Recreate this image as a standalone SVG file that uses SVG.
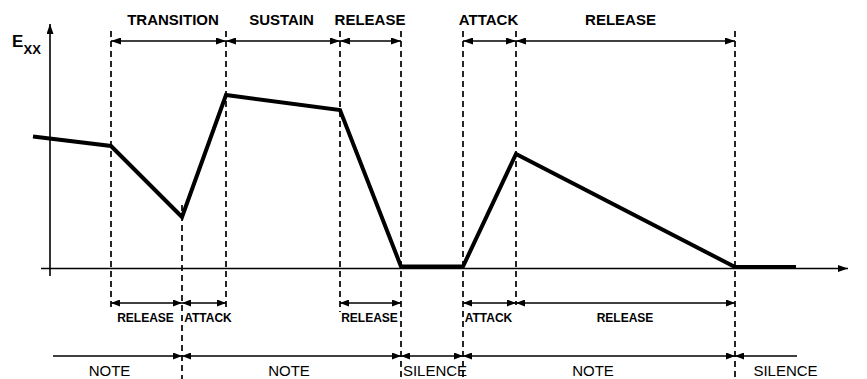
<svg xmlns="http://www.w3.org/2000/svg" width="867" height="379" viewBox="0 0 867 379">
<defs>
<marker id="ah" viewBox="0 0 10 7" refX="10" refY="3.5" markerWidth="10" markerHeight="7" markerUnits="userSpaceOnUse" orient="auto-start-reverse"><path d="M0,0 L10,3.5 L0,7 z" fill="#000"/></marker>
<marker id="ahs" viewBox="0 0 9 7" refX="9" refY="3.5" markerWidth="9" markerHeight="7" markerUnits="userSpaceOnUse" orient="auto-start-reverse"><path d="M0,0 L9,3.5 L0,7 z" fill="#000"/></marker>
<style>
.dash{stroke:#000;stroke-width:1.7;stroke-dasharray:6,4;fill:none}
.axis{stroke:#000;stroke-width:1.6;fill:none}
.dim{stroke:#000;stroke-width:1.6;fill:none}
.sig{stroke:#000;stroke-width:4;fill:none;stroke-linejoin:miter}
.top{font-family:"Liberation Sans",Arial,sans-serif;font-weight:bold;font-size:15px;text-anchor:middle;fill:#000}
.low{font-family:"Liberation Sans",Arial,sans-serif;font-weight:bold;font-size:12px;text-anchor:middle;fill:#000}
.bot{font-family:"Liberation Sans",Arial,sans-serif;font-size:15px;text-anchor:middle;fill:#000}
</style>
</defs>
<rect width="867" height="379" fill="#fff"/>
<g id="axes">
<line class="axis" x1="50" y1="276" x2="50" y2="24" marker-end="url(#ah)"/>
<line class="axis" x1="41" y1="268.5" x2="848" y2="268.5" marker-end="url(#ah)"/>
<text x="12" y="47" font-family="Liberation Sans,Arial,sans-serif" font-weight="bold" font-size="17">E</text>
<text x="23.5" y="54" font-family="Liberation Sans,Arial,sans-serif" font-weight="bold" font-size="13">XX</text>
</g>
<g id="guides">
<line class="dash" x1="111" y1="31" x2="111" y2="310"/>
<line class="dash" x1="182" y1="205" x2="182" y2="379"/>
<line class="dash" x1="226" y1="31" x2="226" y2="308"/>
<line class="dash" x1="340" y1="31" x2="340" y2="312"/>
<line class="dash" x1="401" y1="31" x2="401" y2="379"/>
<line class="dash" x1="463" y1="31" x2="463" y2="379"/>
<line class="dash" x1="516" y1="31" x2="516" y2="305"/>
<line class="dash" x1="735" y1="31" x2="735" y2="379"/>
</g>
<g id="signal">
<polyline class="sig" points="33,136.5 111,146 182,217 226,95 340,110 401,266.5 463,266.5 516,154 735,267 796,267"/>
</g>
<g id="connectors">
<line class="dim" x1="111" y1="41" x2="226" y2="41" marker-start="url(#ah)" marker-end="url(#ah)"/>
<line class="dim" x1="226" y1="41" x2="340" y2="41" marker-start="url(#ah)" marker-end="url(#ah)"/>
<line class="dim" x1="340" y1="41" x2="401" y2="41" marker-start="url(#ah)" marker-end="url(#ah)"/>
<line class="dim" x1="463" y1="41" x2="516" y2="41" marker-start="url(#ah)" marker-end="url(#ah)"/>
<line class="dim" x1="516" y1="41" x2="735" y2="41" marker-start="url(#ah)" marker-end="url(#ah)"/>
<line class="dim" x1="111" y1="303" x2="182" y2="303" marker-start="url(#ahs)" marker-end="url(#ahs)"/>
<line class="dim" x1="182" y1="303" x2="226" y2="303" marker-start="url(#ahs)" marker-end="url(#ahs)"/>
<line class="dim" x1="340" y1="303" x2="401" y2="303" marker-start="url(#ahs)" marker-end="url(#ahs)"/>
<line class="dim" x1="463" y1="303" x2="516" y2="303" marker-start="url(#ahs)" marker-end="url(#ahs)"/>
<line class="dim" x1="516" y1="303" x2="735" y2="303" marker-start="url(#ahs)" marker-end="url(#ahs)"/>
<line class="dim" x1="53" y1="356" x2="182" y2="356" marker-end="url(#ahs)"/>
<line class="dim" x1="182" y1="356" x2="401" y2="356" marker-start="url(#ahs)" marker-end="url(#ahs)"/>
<line class="dim" x1="401" y1="356" x2="463" y2="356" marker-start="url(#ahs)" marker-end="url(#ahs)"/>
<line class="dim" x1="463" y1="356" x2="735" y2="356" marker-start="url(#ahs)" marker-end="url(#ahs)"/>
<line class="dim" x1="735" y1="356" x2="797" y2="356" marker-start="url(#ahs)"/>
</g>
<g id="phase-top">
<text class="top" x="173" y="25">TRANSITION</text>
<text class="top" x="281.5" y="25">SUSTAIN</text>
<text class="top" x="370" y="25">RELEASE</text>
<text class="top" x="488.5" y="25">ATTACK</text>
<text class="top" x="620.5" y="25">RELEASE</text>
</g>
<g id="phase-low">
<text class="low" x="145.5" y="322">RELEASE</text>
<text class="low" x="208" y="322">ATTACK</text>
<text class="low" x="369.5" y="322">RELEASE</text>
<text class="low" x="488.5" y="322">ATTACK</text>
<text class="low" x="625" y="322">RELEASE</text>
</g>
<g id="segments">
<text class="bot" x="109.5" y="376">NOTE</text>
<text class="bot" x="289" y="376">NOTE</text>
<text class="bot" x="435" y="376">SILENCE</text>
<text class="bot" x="593" y="376">NOTE</text>
<text class="bot" x="785.5" y="376">SILENCE</text>
</g>
</svg>
